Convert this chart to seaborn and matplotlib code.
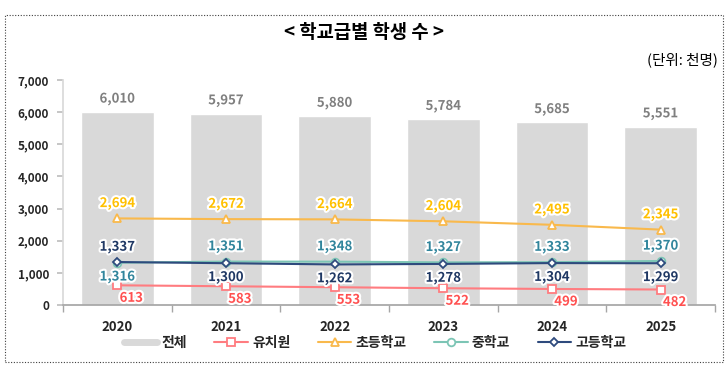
import numpy as np
import pandas as pd
import matplotlib
matplotlib.use("Agg")
import matplotlib.pyplot as plt
import matplotlib.patheffects as pe
from matplotlib.lines import Line2D
from matplotlib.patches import Rectangle
import seaborn as sns

years = ["2020", "2021", "2022", "2023", "2024", "2025"]
total = [6010, 5957, 5880, 5784, 5685, 5551]
kinder = [613, 583, 553, 522, 499, 482]
elem = [2694, 2672, 2664, 2604, 2495, 2345]
middle = [1316, 1351, 1348, 1327, 1333, 1370]
high = [1337, 1300, 1262, 1278, 1304, 1299]
yticks = [0, 1000, 2000, 3000, 4000, 5000, 6000, 7000]

sns.set_theme(style="white")
plt.rcParams['font.family'] = ['Noto Sans CJK KR', 'DejaVu Sans']

fig = plt.figure(figsize=(7.28, 3.69), dpi=100)
ax = fig.add_axes([63/728, 1-305/369, (715-63)/728, (305-80)/369])

df = pd.DataFrame({"year": years, "total": total})
sns.barplot(data=df, x="year", y="total", color="#D9D9D9", saturation=1,
            width=0.67, ax=ax)

series = [
    ("유치원", kinder, "#FF7C80", "#FF5050", "s"),
    ("초등학교", elem, "#F9B94C", "#FFC000", "^"),
    ("중학교", middle, "#7CC5B5", "#31859C", "o"),
    ("고등학교", high, "#2E4A7D", "#1F3864", "D"),
]
xs = np.arange(len(years))
for name, vals, lc, tc, mk in series:
    ms = 5.5 if mk != "D" else 4.5
    sns.lineplot(x=xs, y=vals, ax=ax, color=lc, linewidth=1.5, marker=mk,
                 markersize=ms, markerfacecolor="white", markeredgecolor=lc,
                 markeredgewidth=1.3)

halo = [pe.withStroke(linewidth=3, foreground="white")]
def lab(x, y, s, c, dx=0, dy=0, size=9.5):
    ax.annotate(s, (x, y), xytext=(dx, dy), textcoords="offset points",
                ha="center", va="center", color=c, fontsize=size,
                fontweight="bold", path_effects=halo)

for i in range(6):
    lab(i, total[i], f"{total[i]:,}", "#7F7F7F", dy=9.5)
    lab(i, elem[i], f"{elem[i]:,}", "#FFC000", dy=11)
    lab(i, kinder[i], f"{kinder[i]:,}", "#FF5050", dx=10, dy=-9)
    if i == 0:
        lab(i, high[i], f"{high[i]:,}", "#1F3864", dy=11)
        lab(i, middle[i], f"{middle[i]:,}", "#31859C", dy=-10)
    else:
        lab(i, middle[i], f"{middle[i]:,}", "#31859C", dy=11)
        lab(i, high[i], f"{high[i]:,}", "#1F3864", dy=-10)

ax.set_xlim(-0.5, 5.5)
ax.set_ylim(0, 7000)
ax.set_yticks(yticks)
ax.set_yticklabels([f"{v:,}" for v in yticks], fontsize=8.5, fontweight="bold",
                   color="#262626")
ax.set_xticks(xs)
ax.set_xticklabels(years, fontsize=9.5, fontweight="bold", color="#262626")
ax.set_xlabel("")
ax.set_ylabel("")
for s in ["top", "right"]:
    ax.spines[s].set_visible(False)
ax.spines["left"].set_color("#D9D9D9")
ax.spines["bottom"].set_color("#A6A6A6")
ax.tick_params(axis="y", left=True, length=4, color="#BFBFBF", pad=6)
ax.tick_params(axis="x", bottom=False, pad=5)
ax.set_xticks(np.arange(-0.5, 6, 1), minor=True)
ax.tick_params(axis="x", which="minor", bottom=True, length=5, color="#A6A6A6")

fig.text(0.5, 1-33/369, "< 학교급별 학생 수 >", ha="center", va="center",
         fontsize=13.5, fontweight="bold", color="#000000")
fig.text(718/728, 1-60/369, "(단위: 천명)", ha="right", va="center",
         fontsize=10.5, color="#000000")

handles = [Line2D([], [], color="#D9D9D9", linewidth=5)]
labels = ["전체"]
for name, vals, lc, tc, mk in series:
    handles.append(Line2D([], [], color=lc, linewidth=1.5, marker=mk,
                          markersize=5.5 if mk != "D" else 4.5,
                          markerfacecolor="white", markeredgecolor=lc,
                          markeredgewidth=1.3))
    labels.append(name)
leg = fig.legend(handles, labels, loc="center", bbox_to_anchor=(0.515, 1-343/369),
                 ncol=5, frameon=False, fontsize=10, handlelength=2.4,
                 columnspacing=2.0, handletextpad=0.3)
for t in leg.get_texts():
    t.set_fontweight("bold")
    t.set_color("#262626")

fig.patches.append(Rectangle((5/728, 1-362/369), 718/728, 347/369,
                             transform=fig.transFigure, fill=False,
                             edgecolor="#404040", linestyle=(0, (1, 1.5)),
                             linewidth=0.8))

fig.savefig("out.png", dpi=100)
